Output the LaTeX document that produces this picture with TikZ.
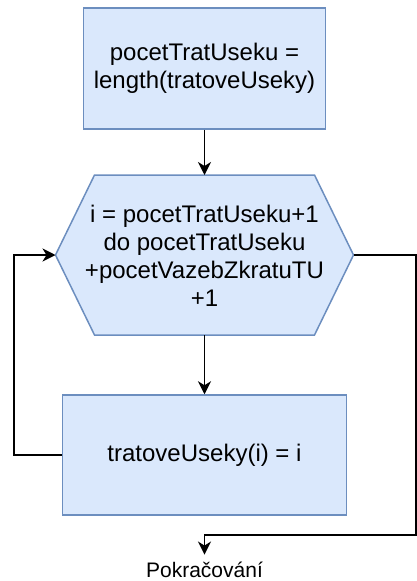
\documentclass[tikz,border=0pt]{standalone}
\usepackage{fontspec}
\setmainfont{Liberation Sans}
\usetikzlibrary{arrows.meta}
\definecolor{boxfill}{HTML}{DAE8FC}
\definecolor{boxline}{HTML}{6C8EBF}
\begin{document}
\begin{tikzpicture}[x=1pt,y=-1pt,
  stepbox/.style={draw=boxline, fill=boxfill, line width=1.5pt, align=center,
    font=\fontsize{24}{28}\selectfont, inner sep=0pt},
  hexshape/.style={draw=boxline, fill=boxfill, line width=1.5pt, line join=miter},
  txt/.style={align=center, font=\fontsize{24}{28}\selectfont, inner sep=0pt},
  arr/.style={line width=1.6pt, -{Stealth[length=13pt,width=13pt,inset=4pt]}},
  link/.style={line width=1.6pt}]
\useasboundingbox (0,0) rectangle (417,581);

% initialisation step
\node[stepbox, minimum width=242pt, minimum height=121pt] (init) at (204.5,68.5)
  {pocetTratUseku =\\length(tratoveUseky)};

% loop header (hexagon)
\filldraw[hexshape] (55.5,255) -- (94.5,175) -- (314.5,175) -- (353.5,255)
  -- (314.5,335) -- (94.5,335) -- cycle;
\coordinate (condN) at (204.5,175);
\coordinate (condS) at (204.5,335);
\coordinate (condW) at (55.5,255);
\coordinate (condE) at (353.5,255);
\node[txt] (cond) at (204.5,256)
  {i = pocetTratUseku+1\\do pocetTratUseku\\+pocetVazebZkratuTU\\+1};

% loop body
\node[stepbox, minimum width=284pt, minimum height=120pt] (body) at (204.5,455)
  {tratoveUseky(i) = i};

% continuation label
\node[font=\fontsize{21}{24}\selectfont, inner sep=0pt, outer ysep=7pt, anchor=base]
  (cont) at (204.5,577) {Pokračování};

% corner points of the connectors
\coordinate (backL) at (14,455);
\coordinate (exitR) at (416,535);

% connectors
\draw[arr] (init.south) -- (condN);
\draw[arr] (condS) -- (body.north);
\draw[arr] (body.west) -- (backL) |- (condW);
\draw[arr] (condE) -| (exitR) -| (cont.north);
\end{tikzpicture}
\end{document}
